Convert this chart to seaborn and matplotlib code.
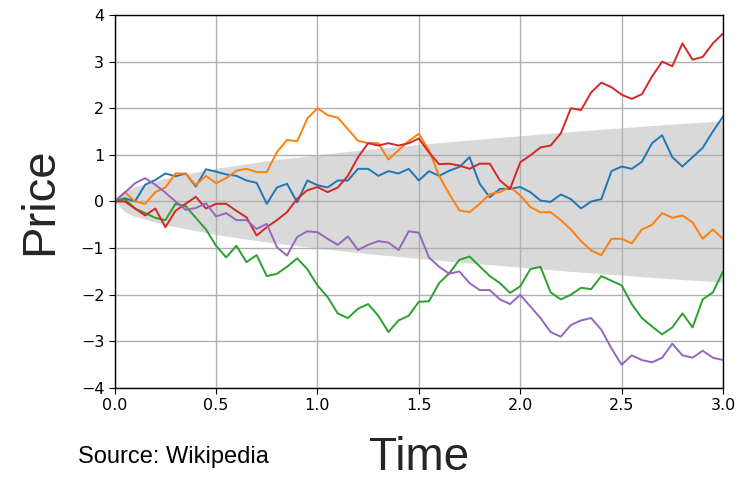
import numpy as np
import pandas as pd
import seaborn as sns
import matplotlib.pyplot as plt

# time grid the paths were read on (every 0.05)
time = np.round(np.arange(61) * 0.05, 2)

blue = [0.0, 0.07, 0.0, 0.36, 0.46, 0.6, 0.54, 0.6, 0.32, 0.69, 0.64,
        0.58, 0.55, 0.45, 0.4, -0.05, 0.3, 0.38, -0.02, 0.45, 0.35,
        0.3, 0.45, 0.45, 0.7, 0.7, 0.55, 0.65, 0.6, 0.7, 0.45,
        0.65, 0.55, 0.66, 0.74, 0.95, 0.38, 0.09, 0.27, 0.27, 0.31,
        0.2, 0.02, -0.01, 0.15, 0.05, -0.15, 0.0, 0.05, 0.65, 0.75,
        0.7, 0.85, 1.25, 1.42, 0.95, 0.75, 0.95, 1.15, 1.5, 1.82]
orange = [0.0, 0.2, 0.0, -0.05, 0.2, 0.3, 0.6, 0.6, 0.35, 0.55, 0.39,
          0.5, 0.66, 0.7, 0.63, 0.63, 1.06, 1.32, 1.29, 1.78, 2.0,
          1.85, 1.8, 1.55, 1.3, 1.25, 1.25, 0.9, 1.1, 1.3, 1.45,
          1.1, 0.55, 0.16, -0.19, -0.23, -0.05, 0.16, 0.2, 0.31, 0.13,
          -0.12, -0.23, -0.23, -0.4, -0.6, -0.85, -1.05, -1.15, -0.8, -0.8,
          -0.9, -0.6, -0.5, -0.25, -0.35, -0.3, -0.45, -0.8, -0.6, -0.8]
green = [0.0, 0.05, -0.15, -0.25, -0.35, -0.4, -0.05, -0.1, -0.35, -0.6, -0.95,
         -1.2, -0.95, -1.3, -1.15, -1.6, -1.55, -1.4, -1.22, -1.45, -1.8,
         -2.05, -2.4, -2.5, -2.3, -2.2, -2.45, -2.8, -2.55, -2.45, -2.15,
         -2.14, -1.75, -1.54, -1.25, -1.18, -1.39, -1.6, -1.75, -1.96, -1.82,
         -1.45, -1.4, -1.95, -2.1, -2.0, -1.85, -1.88, -1.6, -1.7, -1.8,
         -2.2, -2.5, -2.68, -2.85, -2.7, -2.4, -2.7, -2.1, -1.95, -1.5]
red = [0.0, 0.0, -0.15, -0.3, -0.15, -0.55, -0.2, -0.05, 0.1, -0.15, -0.05,
       -0.05, -0.2, -0.34, -0.73, -0.55, -0.4, -0.23, 0.06, 0.24, 0.31,
       0.2, 0.3, 0.55, 0.95, 1.25, 1.2, 1.25, 1.2, 1.25, 1.35,
       1.05, 0.8, 0.81, 0.77, 0.7, 0.81, 0.81, 0.45, 0.27, 0.84,
       0.99, 1.16, 1.2, 1.46, 2.0, 1.96, 2.34, 2.55, 2.45, 2.29,
       2.2, 2.3, 2.68, 3.0, 2.9, 3.39, 3.04, 3.1, 3.39, 3.6]
purple = [0.0, 0.19, 0.39, 0.5, 0.36, 0.19, 0.0, -0.18, -0.14, -0.04, -0.32,
          -0.25, -0.4, -0.4, -0.59, -0.48, -0.98, -1.16, -0.76, -0.64, -0.66,
          -0.8, -0.93, -0.75, -1.04, -0.93, -0.85, -0.88, -1.04, -0.64, -0.67,
          -1.2, -1.4, -1.55, -1.5, -1.75, -1.9, -1.9, -2.1, -2.2, -2.0,
          -2.25, -2.5, -2.8, -2.9, -2.65, -2.55, -2.5, -2.75, -3.15, -3.5,
          -3.3, -3.4, -3.45, -3.35, -3.05, -3.3, -3.35, -3.2, -3.35, -3.4]

# grey envelope
band_t = [0, 0.05, 0.1, 0.25, 0.5, 0.75, 1.0, 1.25, 1.5, 1.75, 2.0, 2.25, 2.5, 2.75, 3.0]
band_hi = [0, 0.22, 0.32, 0.5, 0.71, 0.87, 1.0, 1.12, 1.22, 1.32, 1.41, 1.5, 1.58, 1.66, 1.73]
band_lo = [-v for v in band_hi]

path_names = ['p1', 'p2', 'p3', 'p4', 'p5']
colors = ['#1f77b4', '#ff7f0e', '#2ca02c', '#d62728', '#9467bd']

df = pd.DataFrame({
    'time': np.tile(time, 5),
    'price': blue + orange + green + red + purple,
    'path': np.repeat(path_names, len(time)),
})

sns.set_style('ticks', {'axes.grid': True, 'grid.color': '#b0b0b0',
                        'axes.edgecolor': 'black', 'xtick.color': 'black',
                        'ytick.color': 'black', 'text.color': 'black'})
plt.rcParams['font.family'] = ['DejaVu Sans']

fig, ax = plt.subplots(figsize=(7.4, 4.82), dpi=100)
fig.subplots_adjust(left=0.155, right=0.977, bottom=0.195, top=0.969)

ax.fill_between(band_t, band_lo, band_hi, color='#d9d9d9', lw=0, zorder=1)
sns.lineplot(data=df, x='time', y='price', hue='path', palette=colors,
             estimator=None, lw=1.4, legend=False, ax=ax)
ax.set_axisbelow('line')
ax.grid(True, color='#b0b0b0', lw=1.0)

ax.set_xlim(0, 3)
ax.set_ylim(-4, 4)
ax.set_xticks([0, 0.5, 1.0, 1.5, 2.0, 2.5, 3.0])
ax.set_xticklabels(['0.0', '0.5', '1.0', '1.5', '2.0', '2.5', '3.0'])
ax.set_yticks(range(-4, 5))
ax.tick_params(direction='out', length=4, width=0.8, labelsize=11.5, colors='black')
for s in ax.spines.values():
    s.set_visible(True)
    s.set_color('black')
    s.set_linewidth(1.0)

ax.set_xlabel('Time', fontsize=33, family=['Liberation Sans', 'DejaVu Sans'], labelpad=16)
ax.set_ylabel('Price', fontsize=34, family=['Liberation Sans', 'DejaVu Sans'], labelpad=13)
fig.text(78 / 740, 1 - 457 / 482, 'Source: Wikipedia', fontsize=17,
         family=['Liberation Sans', 'DejaVu Sans'], va='center', ha='left')

fig.savefig('out.png', dpi=100)
